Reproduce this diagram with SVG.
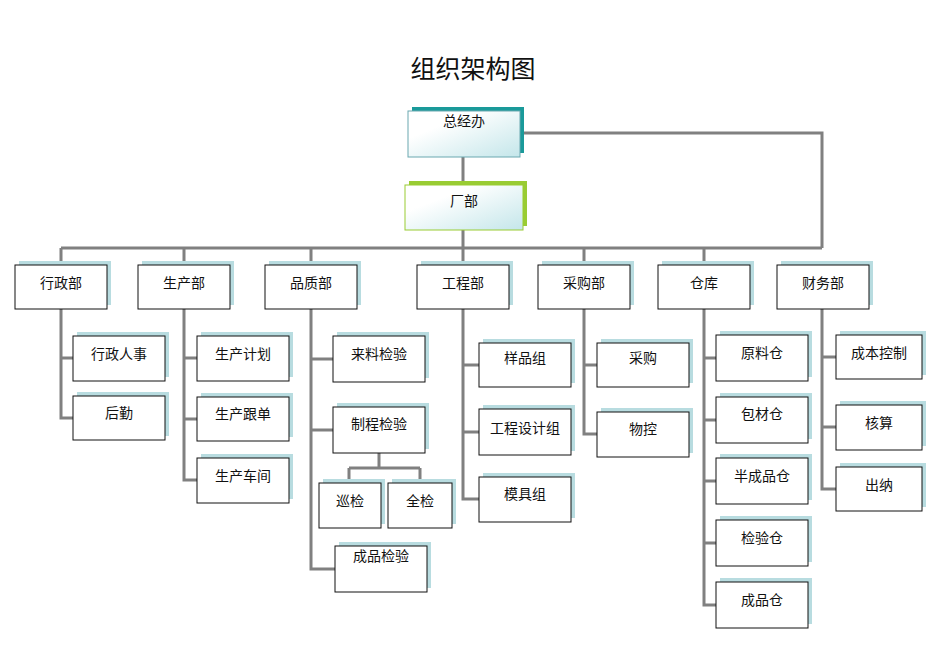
<svg xmlns="http://www.w3.org/2000/svg" width="950" height="672" viewBox="0 0 950 672">
<defs>
<linearGradient id="g" x1="0" y1="0" x2="1" y2="1"><stop offset="0.3" stop-color="#fff"/><stop offset="1" stop-color="#c4e6ea"/></linearGradient>
</defs>
<style>
.b{fill:#fff;stroke:#111;stroke-width:1}
.s{fill:#b8dce0}
.t{font-family:"Noto Sans CJK SC",sans-serif;font-size:14px;fill:#111;text-anchor:middle}
.c{fill:none;stroke:#808080;stroke-width:3}
</style>
<rect width="950" height="672" fill="#fff"/>
<text x="473" y="78" style="font-family:'Noto Sans CJK SC',sans-serif;font-size:25px;text-anchor:middle;fill:#111">组织架构图</text>
<g id="connectors" class="c">
<path d="M520 133H822V248M463 157V185M463 230V248M61 248H822M61 248V265M184 248V265M311 248V265M463 248V265M584 248V265M704 248V265"/>
<path d="M61 309V418H73M61 358H73"/>
<path d="M184 309V480H197M184 358H197M184 419H197"/>
<path d="M311 309V569H335M311 359H333M311 430H333M379 453V468M349 468H420M349 468V483M420 468V483"/>
<path d="M463 309V499H479M463 365H479M463 432H479"/>
<path d="M584 309V434H597M584 365H597"/>
<path d="M704 309V605H716M704 358H716M704 420H716M704 481H716M704 543H716"/>
<path d="M822 309V489H836M822 357H836M822 427H836"/>
</g>
<g id="n0"><rect x="412" y="107" width="112" height="46" fill="#1a9a9a"/><rect x="408" y="111" width="112" height="46" fill="url(#g)" stroke="#6aa8b0"/><text class="t" x="464" y="126">总经办</text></g>
<g id="n1"><rect x="409" y="181" width="118" height="45" fill="#99cc33"/><rect x="405" y="185" width="118" height="45" fill="url(#g)" stroke="#99cc33"/><text class="t" x="464" y="206">厂部</text></g>
<g id="d1"><rect class="s" x="19" y="261" width="92" height="44"/><rect class="b" x="15" y="265" width="92" height="44"/><text class="t" x="61" y="288">行政部</text></g>
<g id="d2"><rect class="s" x="142" y="261" width="92" height="44"/><rect class="b" x="138" y="265" width="92" height="44"/><text class="t" x="184" y="288">生产部</text></g>
<g id="d3"><rect class="s" x="269" y="261" width="92" height="44"/><rect class="b" x="265" y="265" width="92" height="44"/><text class="t" x="311" y="288">品质部</text></g>
<g id="d4"><rect class="s" x="421" y="261" width="92" height="44"/><rect class="b" x="417" y="265" width="92" height="44"/><text class="t" x="463" y="288">工程部</text></g>
<g id="d5"><rect class="s" x="542" y="261" width="92" height="44"/><rect class="b" x="538" y="265" width="92" height="44"/><text class="t" x="584" y="288">采购部</text></g>
<g id="d6"><rect class="s" x="662" y="261" width="92" height="44"/><rect class="b" x="658" y="265" width="92" height="44"/><text class="t" x="704" y="288">仓库</text></g>
<g id="d7"><rect class="s" x="781" y="261" width="92" height="44"/><rect class="b" x="777" y="265" width="92" height="44"/><text class="t" x="823" y="288">财务部</text></g>
<g id="a1"><rect class="s" x="77" y="332" width="92" height="45"/><rect class="b" x="73" y="336" width="92" height="45"/><text class="t" x="119" y="359">行政人事</text></g>
<g id="a2"><rect class="s" x="77" y="392" width="92" height="44"/><rect class="b" x="73" y="396" width="92" height="44"/><text class="t" x="119" y="418">后勤</text></g>
<g id="b1"><rect class="s" x="201" y="332" width="92" height="45"/><rect class="b" x="197" y="336" width="92" height="45"/><text class="t" x="243" y="359">生产计划</text></g>
<g id="b2"><rect class="s" x="201" y="393" width="92" height="44"/><rect class="b" x="197" y="397" width="92" height="44"/><text class="t" x="243" y="419">生产跟单</text></g>
<g id="b3"><rect class="s" x="201" y="454" width="92" height="45"/><rect class="b" x="197" y="458" width="92" height="45"/><text class="t" x="243" y="481">生产车间</text></g>
<g id="c1"><rect class="s" x="337" y="332" width="92" height="46"/><rect class="b" x="333" y="336" width="92" height="46"/><text class="t" x="379" y="359">来料检验</text></g>
<g id="c2"><rect class="s" x="337" y="403" width="92" height="46"/><rect class="b" x="333" y="407" width="92" height="46"/><text class="t" x="379" y="429">制程检验</text></g>
<g id="c3"><rect class="s" x="323" y="479" width="62" height="45"/><rect class="b" x="319" y="483" width="62" height="45"/><text class="t" x="350" y="506">巡检</text></g>
<g id="c4"><rect class="s" x="392" y="479" width="64" height="45"/><rect class="b" x="388" y="483" width="64" height="45"/><text class="t" x="420" y="506">全检</text></g>
<g id="c5"><rect class="s" x="339" y="542" width="92" height="46"/><rect class="b" x="335" y="546" width="92" height="46"/><text class="t" x="381" y="561">成品检验</text></g>
<g id="e1"><rect class="s" x="483" y="339" width="92" height="44"/><rect class="b" x="479" y="343" width="92" height="44"/><text class="t" x="525" y="363">样品组</text></g>
<g id="e2"><rect class="s" x="483" y="405" width="92" height="46"/><rect class="b" x="479" y="409" width="92" height="46"/><text class="t" x="525" y="433">工程设计组</text></g>
<g id="e3"><rect class="s" x="483" y="473" width="92" height="45"/><rect class="b" x="479" y="477" width="92" height="45"/><text class="t" x="525" y="499">模具组</text></g>
<g id="f1"><rect class="s" x="601" y="339" width="92" height="44"/><rect class="b" x="597" y="343" width="92" height="44"/><text class="t" x="643" y="363">采购</text></g>
<g id="f2"><rect class="s" x="601" y="408" width="92" height="45"/><rect class="b" x="597" y="412" width="92" height="45"/><text class="t" x="643" y="434">物控</text></g>
<g id="w1"><rect class="s" x="720" y="331" width="92" height="46"/><rect class="b" x="716" y="335" width="92" height="46"/><text class="t" x="762" y="358">原料仓</text></g>
<g id="w2"><rect class="s" x="720" y="393" width="92" height="46"/><rect class="b" x="716" y="397" width="92" height="46"/><text class="t" x="762" y="419">包材仓</text></g>
<g id="w3"><rect class="s" x="720" y="454" width="92" height="46"/><rect class="b" x="716" y="458" width="92" height="46"/><text class="t" x="762" y="481">半成品仓</text></g>
<g id="w4"><rect class="s" x="720" y="516" width="92" height="46"/><rect class="b" x="716" y="520" width="92" height="46"/><text class="t" x="762" y="543">检验仓</text></g>
<g id="w5"><rect class="s" x="720" y="578" width="92" height="46"/><rect class="b" x="716" y="582" width="92" height="46"/><text class="t" x="762" y="605">成品仓</text></g>
<g id="m1"><rect class="s" x="840" y="331" width="86" height="44"/><rect class="b" x="836" y="335" width="86" height="44"/><text class="t" x="879" y="358">成本控制</text></g>
<g id="m2"><rect class="s" x="840" y="401" width="86" height="45"/><rect class="b" x="836" y="405" width="86" height="45"/><text class="t" x="879" y="428">核算</text></g>
<g id="m3"><rect class="s" x="840" y="463" width="86" height="44"/><rect class="b" x="836" y="467" width="86" height="44"/><text class="t" x="879" y="490">出纳</text></g>
</svg>
